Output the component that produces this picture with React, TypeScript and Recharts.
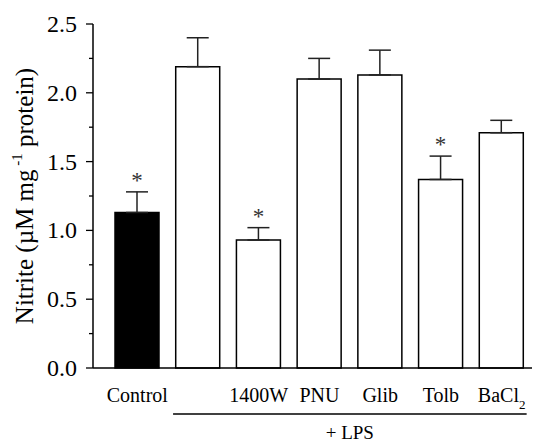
import React from "react";
import {
  BarChart,
  Bar,
  XAxis,
  YAxis,
  Cell,
  ErrorBar,
  LabelList,
} from "recharts";

const groups = ["Control", "LPS", "1400W", "PNU", "Glib", "Tolb", "BaCl2"];
const tickLabels = ["Control", "", "1400W", "PNU", "Glib", "Tolb", "BaCl"];
const nitrite = [1.13, 2.19, 0.93, 2.1, 2.13, 1.37, 1.71];
const sem = [0.15, 0.21, 0.09, 0.15, 0.18, 0.17, 0.09];
const significant = [true, false, true, false, false, true, false];
const yTicks = [0, 0.25, 0.5, 0.75, 1, 1.25, 1.5, 1.75, 2, 2.25, 2.5];

const W = 541;
const H = 442;
const FONT = "Liberation Serif, Times New Roman, serif";
const MARGIN = { top: 24, right: 9, bottom: 73, left: 33 };
const Y_AXIS_W = 60;
const PAD_LEFT = 14;
const BAR_W = 44;

const data = groups.map((g, i) => ({
  name: g,
  value: nitrite[i],
  err: [0, sem[i]],
}));

const YTick = (props: any) => {
  const { x, y, payload } = props;
  const v = payload.value;
  const major = Math.abs(v * 2 - Math.round(v * 2)) < 1e-6;
  return (
    <g>
      <line x1={x - (major ? 7 : 4)} x2={x} y1={y} y2={y} stroke="#000" strokeWidth={1.3} />
      {major && (
        <text x={x - 16} y={y + 8} textAnchor="end" style={{ fontFamily: FONT }} fontSize={24} fill="#000">
          {v.toFixed(1)}
        </text>
      )}
    </g>
  );
};

const XTick = (props: any) => {
  const { x, y, payload, index } = props;
  const label = tickLabels[index ?? 0] ?? payload.value;
  const isBa = groups[index] === "BaCl2";
  return (
    <text x={x} y={y + 34} textAnchor="middle" style={{ fontFamily: FONT }} fontSize={20} fill="#000">
      {label}
      {isBa && (
        <tspan fontSize={13} dy={7}>
          2
        </tspan>
      )}
    </text>
  );
};

const Star = (props: any) => {
  const vb = props.viewBox || {};
  const x = props.x ?? vb.x;
  const y = props.y ?? vb.y;
  const width = props.width ?? vb.width;
  const height = props.height ?? vb.height;
  const index = props.index;
  if (!significant[index]) return null;
  const perUnit = height / nitrite[index];
  const top = y - sem[index] * perUnit;
  return (
    <text x={x + width / 2} y={top - 4} textAnchor="middle" style={{ fontFamily: FONT }} fontSize={23} fill="#333">
      *
    </text>
  );
};

export default function App() {
  const plotLeft = MARGIN.left + Y_AXIS_W;
  const plotW = W - MARGIN.right - plotLeft;
  const band = (plotW - PAD_LEFT) / groups.length;
  const barStart = (i: number) => plotLeft + PAD_LEFT + band * i + (band - BAR_W) / 2;
  const lpsX1 = barStart(1) - 3;
  const lpsX2 = barStart(groups.length - 1) + BAR_W + 3;
  const plotBottom = H - MARGIN.bottom - 1;

  return (
    <div style={{ position: "relative", width: W, height: H, background: "#fff" }}>
      <style>{"body{margin:0}"}</style>
      <BarChart width={W} height={H} data={data} margin={MARGIN}>
        <XAxis
          dataKey="name"
          height={1}
          axisLine={{ stroke: "#000", strokeWidth: 1.5 }}
          tickLine={false}
          tickSize={0}
          tickMargin={0}
          interval={0}
          padding={{ left: PAD_LEFT, right: 0 }}
          tick={<XTick />}
        />
        <YAxis
          width={Y_AXIS_W}
          domain={[0, 2.5]}
          ticks={yTicks}
          interval={0}
          axisLine={{ stroke: "#000", strokeWidth: 1.5 }}
          tickLine={false}
          tickSize={0}
          tickMargin={0}
          tick={<YTick />}
        />
        <Bar dataKey="value" barSize={BAR_W} stroke="#000" strokeWidth={1.5} isAnimationActive={false}>
          {data.map((d, i) => (
            <Cell key={d.name} fill={i === 0 ? "#000" : "#fff"} />
          ))}
          <ErrorBar dataKey="err" width={11} stroke="#222" strokeWidth={1.5} />
          <LabelList dataKey="value" content={<Star />} />
        </Bar>
      </BarChart>
      <svg width={W} height={H} style={{ position: "absolute", left: 0, top: 0, pointerEvents: "none" }}>
        <text
          transform={`translate(33, ${MARGIN.top + (plotBottom - MARGIN.top) / 2}) rotate(-90)`}
          textAnchor="middle"
          style={{ fontFamily: FONT }}
          fontSize={25}
          fill="#000"
        >
          Nitrite (µM mg
          <tspan fontSize={15} dy={-11}>
            {" -1"}
          </tspan>
          <tspan dy={11}>{"  protein)"}</tspan>
        </text>
        <line x1={lpsX1} x2={lpsX2} y1={plotBottom + 46} y2={plotBottom + 46} stroke="#000" strokeWidth={1.3} />
        <text x={(lpsX1 + lpsX2) / 2} y={H - 3} textAnchor="middle" style={{ fontFamily: FONT }} fontSize={19} fill="#000">
          + LPS
        </text>
      </svg>
    </div>
  );
}
